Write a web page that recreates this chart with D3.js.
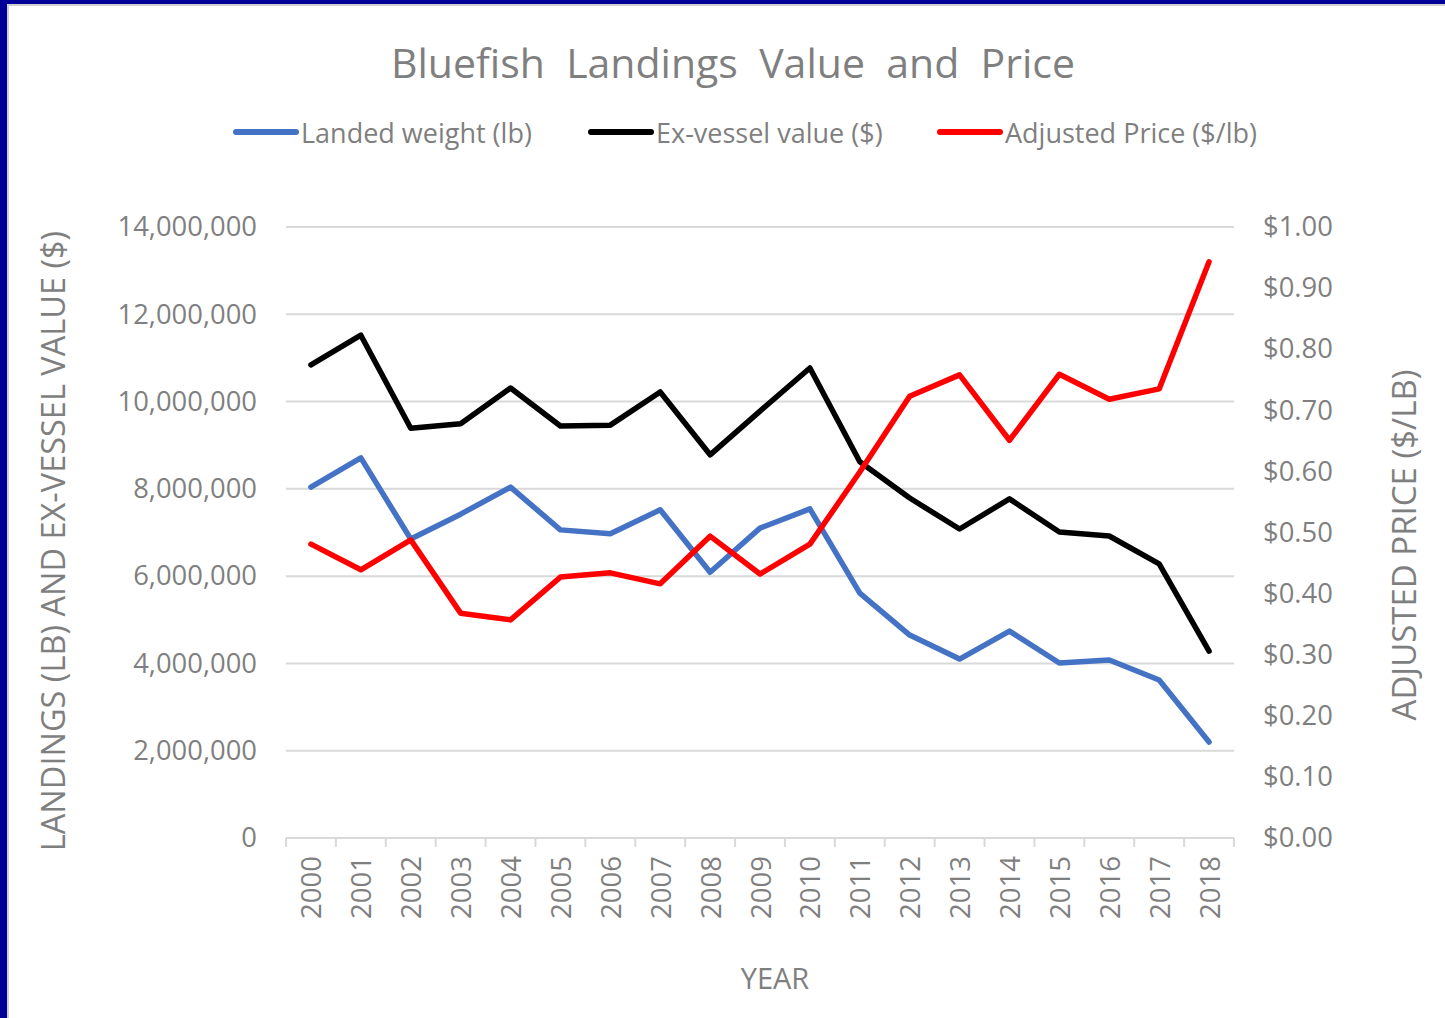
<!DOCTYPE html>
<html>
<head>
<meta charset="utf-8">
<script src="https://cdn.jsdelivr.net/npm/d3@7"></script>
<style>
  body { margin: 0; background: #fff; }
  svg text { font-family: "Open Sans", sans-serif; fill: #7f7f7f; }
</style>
</head>
<body>
<svg id="chart" width="1445" height="1018"></svg>
<script>
// data
var years = ["2000","2001","2002","2003","2004","2005","2006","2007","2008","2009",
             "2010","2011","2012","2013","2014","2015","2016","2017","2018"];
var landedWeight = [8040000, 8710000, 6850000, 7420000, 8040000, 7060000, 6970000, 7520000, 6090000, 7100000,
                    7540000, 5610000, 4650000, 4100000, 4740000, 4010000, 4080000, 3620000, 2200000];
var exVesselValue = [10840000, 11520000, 9390000, 9490000, 10310000, 9440000, 9460000, 10220000, 8780000, 9780000,
                     10770000, 8620000, 7790000, 7080000, 7770000, 7010000, 6920000, 6280000, 4280000];
var adjustedPrice = [0.481, 0.439, 0.488, 0.368, 0.357, 0.427, 0.434, 0.416, 0.494, 0.432,
                     0.481, 0.599, 0.723, 0.758, 0.651, 0.759, 0.718, 0.735, 0.943];
var leftTicks = [0, 2000000, 4000000, 6000000, 8000000, 10000000, 12000000, 14000000];
var rightTicks = [0, 0.1, 0.2, 0.3, 0.4, 0.5, 0.6, 0.7, 0.8, 0.9, 1.0];
var seriesNames = ["Landed weight (lb)", "Ex-vessel value ($)", "Adjusted Price ($/lb)"];
var seriesColors = ["#4472c4", "#000000", "#ff0000"];

var svg = d3.select("#chart");

// frame: navy border on top/left like the slide
svg.append("rect").attr("width", 1445).attr("height", 1018).attr("fill", "#000099");
svg.append("rect").attr("x", 8).attr("y", 5).attr("width", 1445).attr("height", 1018)
    .attr("fill", "#fff").attr("stroke", "#d0d0d0").attr("stroke-width", 2);

var margin = {top: 227, right: 211, bottom: 180, left: 286};
var width = 1445 - margin.left - margin.right,
    height = 1018 - margin.top - margin.bottom;

var g = svg.append("g")
    .attr("transform", "translate(" + margin.left + "," + margin.top + ")");

var x = d3.scaleBand().domain(years).range([0, width]).padding(0);
var yL = d3.scaleLinear().domain([0, 14000000]).range([height, 0]);
var yR = d3.scaleLinear().domain([0, 1]).range([height, 0]);

// gridlines
g.append("g")
    .selectAll("line")
    .data(leftTicks.slice(1))
    .enter().append("line")
    .attr("x1", 0).attr("x2", width)
    .attr("y1", function(d) { return yL(d); })
    .attr("y2", function(d) { return yL(d); })
    .attr("stroke", "#d9d9d9").attr("stroke-width", 2);

// left axis
var leftAxis = g.append("g")
    .call(d3.axisLeft(yL).tickValues(leftTicks).tickSize(0).tickPadding(29)
        .tickFormat(d3.format(",")));
leftAxis.select(".domain").remove();
leftAxis.selectAll("text").attr("font-size", 27.4).style("font-family", "Open Sans").attr("fill", "#7f7f7f");

// right axis
var rightAxis = g.append("g")
    .attr("transform", "translate(" + width + ",0)")
    .call(d3.axisRight(yR).tickValues(rightTicks).tickSize(0).tickPadding(29)
        .tickFormat(d3.format("$.2f")));
rightAxis.select(".domain").remove();
rightAxis.selectAll("text").attr("font-size", 27.4).style("font-family", "Open Sans").attr("fill", "#7f7f7f");

// bottom axis, ticks between categories
var bottom = g.append("g").attr("transform", "translate(0," + height + ")");
bottom.append("line").attr("x1", 0).attr("x2", width)
    .attr("stroke", "#d9d9d9").attr("stroke-width", 2);
bottom.selectAll(".tk")
    .data(years.concat(["end"]))
    .enter().append("line")
    .attr("class", "tk")
    .attr("x1", function(d, i) { return i * x.bandwidth(); })
    .attr("x2", function(d, i) { return i * x.bandwidth(); })
    .attr("y1", 0).attr("y2", 9)
    .attr("stroke", "#d9d9d9").attr("stroke-width", 2);
bottom.selectAll(".yr")
    .data(years)
    .enter().append("text")
    .attr("class", "yr")
    .attr("transform", function(d) {
        return "translate(" + (x(d) + x.bandwidth() / 2) + ",18) rotate(-90)";
    })
    .attr("text-anchor", "end")
    .attr("dominant-baseline", "central")
    .attr("font-size", 27.5)
    .text(function(d) { return d; });

// lines
var series = [landedWeight, exVesselValue, adjustedPrice];
var scales = [yL, yL, yR];
series.forEach(function(vals, k) {
    var line = d3.line()
        .x(function(d, i) { return x(years[i]) + x.bandwidth() / 2; })
        .y(function(d) { return scales[k](d); });
    g.append("path")
        .datum(vals)
        .attr("fill", "none")
        .attr("stroke", seriesColors[k])
        .attr("stroke-width", 5.5)
        .attr("stroke-linejoin", "round")
        .attr("stroke-linecap", "round")
        .attr("d", line);
});

// title
svg.append("text")
    .attr("x", 733).attr("y", 78)
    .attr("text-anchor", "middle")
    .attr("font-size", 41)
    .style("white-space", "pre")
    .attr("xml:space", "preserve")
    .text("Bluefish  Landings  Value  and  Price");

// legend
var legendX = [234, 589, 938];
var legend = svg.append("g").selectAll("g")
    .data(seriesNames)
    .enter().append("g")
    .attr("transform", function(d, i) { return "translate(" + legendX[i] + ",132)"; });
legend.append("line")
    .attr("x1", 2).attr("x2", 62)
    .attr("stroke", function(d, i) { return seriesColors[i]; })
    .attr("stroke-width", 6).attr("stroke-linecap", "round");
legend.append("text")
    .attr("x", 67)
    .attr("dominant-baseline", "central")
    .attr("font-size", 27)
    .text(function(d) { return d; });

// axis titles
svg.append("text")
    .attr("transform", "translate(52,541) rotate(-90)")
    .attr("text-anchor", "middle")
    .attr("dominant-baseline", "central")
    .attr("font-size", 32.5)
    .text("LANDINGS (LB) AND EX-VESSEL VALUE ($)");

svg.append("text")
    .attr("transform", "translate(1403,545) rotate(-90)")
    .attr("text-anchor", "middle")
    .attr("dominant-baseline", "central")
    .attr("font-size", 33)
    .text("ADJUSTED PRICE ($/LB)");

svg.append("text")
    .attr("x", 775).attr("y", 977)
    .attr("text-anchor", "middle")
    .attr("dominant-baseline", "central")
    .attr("font-size", 29)
    .text("YEAR");
</script>
</body>
</html>
